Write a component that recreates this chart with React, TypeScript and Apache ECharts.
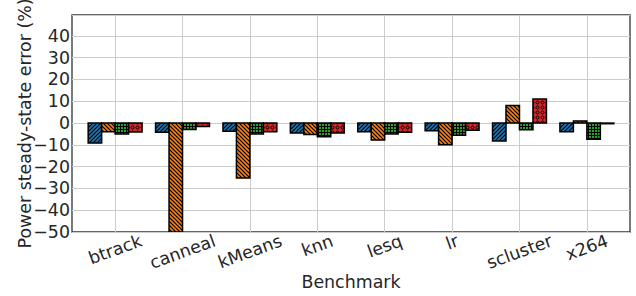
import React, { useEffect, useRef } from "react";
import * as echarts from "echarts";

const categories = ["btrack", "canneal", "kMeans", "knn", "lesq", "lr", "scluster", "x264"];
const seriesA = [-9.2, -4.2, -3.8, -4.6, -4.0, -3.5, -8.2, -4.0];
const seriesB = [-4.0, -60, -25.2, -5.2, -7.8, -9.9, 8.1, 1.0];
const seriesC = [-5.0, -3.0, -5.0, -6.3, -5.0, -5.6, -3.1, -7.4];
const seriesD = [-4.1, -1.6, -4.0, -4.6, -4.2, -3.3, 11.0, -0.3];
const yTicks = [-50, -40, -30, -20, -10, 0, 10, 20, 30, 40];

const FONT = "DejaVu Sans";
const FS = 17.4;
const TEXT = "#262626";

function makeTile(kind: string): HTMLCanvasElement {
  const c = document.createElement("canvas");
  const ctx = c.getContext("2d") as CanvasRenderingContext2D;
  if (kind === "slash") {
    const n = 8;
    c.width = n; c.height = n;
    ctx.fillStyle = "#1f77b4"; ctx.fillRect(0, 0, n, n);
    ctx.strokeStyle = "#000"; ctx.lineWidth = 1.2;
    for (let k = -8; k <= 24; k += 4) {
      ctx.beginPath(); ctx.moveTo(k + 2, -2); ctx.lineTo(k - 10, 10); ctx.stroke();
    }
  } else if (kind === "back") {
    const n = 8;
    c.width = n; c.height = n;
    ctx.fillStyle = "#ff7f0e"; ctx.fillRect(0, 0, n, n);
    ctx.strokeStyle = "#000"; ctx.lineWidth = 1.2;
    for (let k = -16; k <= 16; k += 4) {
      ctx.beginPath(); ctx.moveTo(k - 2, -2); ctx.lineTo(k + 10, 10); ctx.stroke();
    }
  } else if (kind === "plus") {
    const n = 3;
    c.width = n; c.height = n;
    ctx.fillStyle = "#2ca02c"; ctx.fillRect(0, 0, n, n);
    ctx.fillStyle = "#000";
    ctx.fillRect(0, 0, n, 1); ctx.fillRect(0, 0, 1, n);
  } else {
    const n = 5;
    c.width = n; c.height = n;
    ctx.fillStyle = "#d62728"; ctx.fillRect(0, 0, n, n);
    ctx.strokeStyle = "#000"; ctx.lineWidth = 1;
    ctx.beginPath(); ctx.arc(2.5, 2.5, 1.5, 0, Math.PI * 2); ctx.stroke();
  }
  return c;
}

export default function App() {
  const ref = useRef<HTMLDivElement>(null);
  useEffect(() => {
    if (!ref.current) return;
    const chart = echarts.init(ref.current, undefined, { renderer: "svg" });

    const meas = document.createElement("canvas").getContext("2d") as CanvasRenderingContext2D;
    meas.font = `${FS}px "${FONT}"`;
    const rot = (20 * Math.PI) / 180;
    const s20 = Math.sin(rot);
    const labelWidths = categories.map((n) => meas.measureText(n).width);

    const tiles = ["slash", "back", "plus", "dots"].map((k) => ({
      image: makeTile(k), repeat: "repeat",
    }));
    const offsets = [-0.3, -0.1, 0.1, 0.3];
    const allSeries = [seriesA, seriesB, seriesC, seriesD];

    const series: any[] = allSeries.map((vals, s) => ({
      type: "custom",
      name: "s" + s,
      clip: true,
      encode: { x: 0, y: 1 },
      data: vals.map((v, i) => [i, v]),
      z: 3,
      renderItem: (params: any, api: any) => {
        const ci = api.value(0);
        const v = api.value(1);
        const cx = ci + offsets[s];
        const p0 = api.coord([cx - 0.1, 0]);
        const p1 = api.coord([cx + 0.1, v]);
        const rect = {
          x: Math.min(p0[0], p1[0]),
          y: Math.min(p0[1], p1[1]),
          width: Math.abs(p1[0] - p0[0]),
          height: Math.abs(p1[1] - p0[1]),
        };
        const cs = params.coordSys;
        const clipped = echarts.graphic.clipRectByRect(rect, {
          x: cs.x, y: cs.y, width: cs.width, height: cs.height,
        });
        if (!clipped) return null;
        return {
          type: "rect",
          shape: clipped,
          style: { fill: tiles[s], stroke: "#000", lineWidth: 1.5 },
        };
      },
    }));

    // rotated category labels, bounding box centred on each tick (like matplotlib ha=center)
    series.push({
      type: "custom",
      name: "labels",
      clip: false,
      silent: true,
      encode: { x: 0, y: 1 },
      data: categories.map((_, i) => [i, yTicks[0]]),
      renderItem: (params: any, api: any) => {
        const i = api.value(0);
        const p = api.coord([i, api.value(1)]);
        const w = labelWidths[i];
        return {
          type: "text",
          x: p[0],
          y: p[1] + 8 + (w * s20) / 2,
          rotation: rot,
          style: {
            text: categories[i],
            fontFamily: FONT,
            fontSize: FS,
            fill: TEXT,
            align: "center",
            verticalAlign: "middle",
          },
        };
      },
    });

    chart.setOption({
      animation: false,
      backgroundColor: "#fff",
      grid: {
        left: 72, right: 6, top: 15, bottom: 64,
        outerBoundsMode: "none",
        containLabel: false,
        show: true, borderColor: "#333", borderWidth: 1.3,
        backgroundColor: "transparent",
      },
      xAxis: {
        type: "value",
        min: -0.64,
        max: 7.64,
        name: "Benchmark",
        nameLocation: "middle",
        nameGap: 41,
        nameMoveOverlap: false,
        nameTextStyle: { fontFamily: FONT, fontSize: FS, color: TEXT },
        axisLine: { show: false },
        axisTick: { show: false, customValues: categories.map((_, i) => i) },
        axisLabel: { show: false, customValues: categories.map((_, i) => i) },
        splitLine: { show: true, lineStyle: { color: "#cccccc", width: 1 } },
      },
      yAxis: {
        type: "value",
        min: yTicks[0],
        max: 49.6,
        interval: 10,
        name: "Power steady-state error (%)",
        nameLocation: "middle",
        nameGap: 39,
        nameMoveOverlap: false,
        nameTextStyle: { fontFamily: FONT, fontSize: FS, color: TEXT },
        axisLine: { show: false },
        axisTick: { show: false },
        axisLabel: {
          showMaxLabel: false,
          margin: 2,
          fontFamily: FONT, fontSize: FS, color: TEXT,
          formatter: (v: number) => (v < 0 ? "\u2212" + Math.abs(v) : String(v)),
        },
        splitLine: { show: true, lineStyle: { color: "#cccccc", width: 1 } },
      },
      series,
    });
    return () => chart.dispose();
  }, []);
  return (
    <div
      ref={ref}
      style={{ position: "fixed", left: 0, top: 0, width: 636, height: 296 }}
    />
  );
}
